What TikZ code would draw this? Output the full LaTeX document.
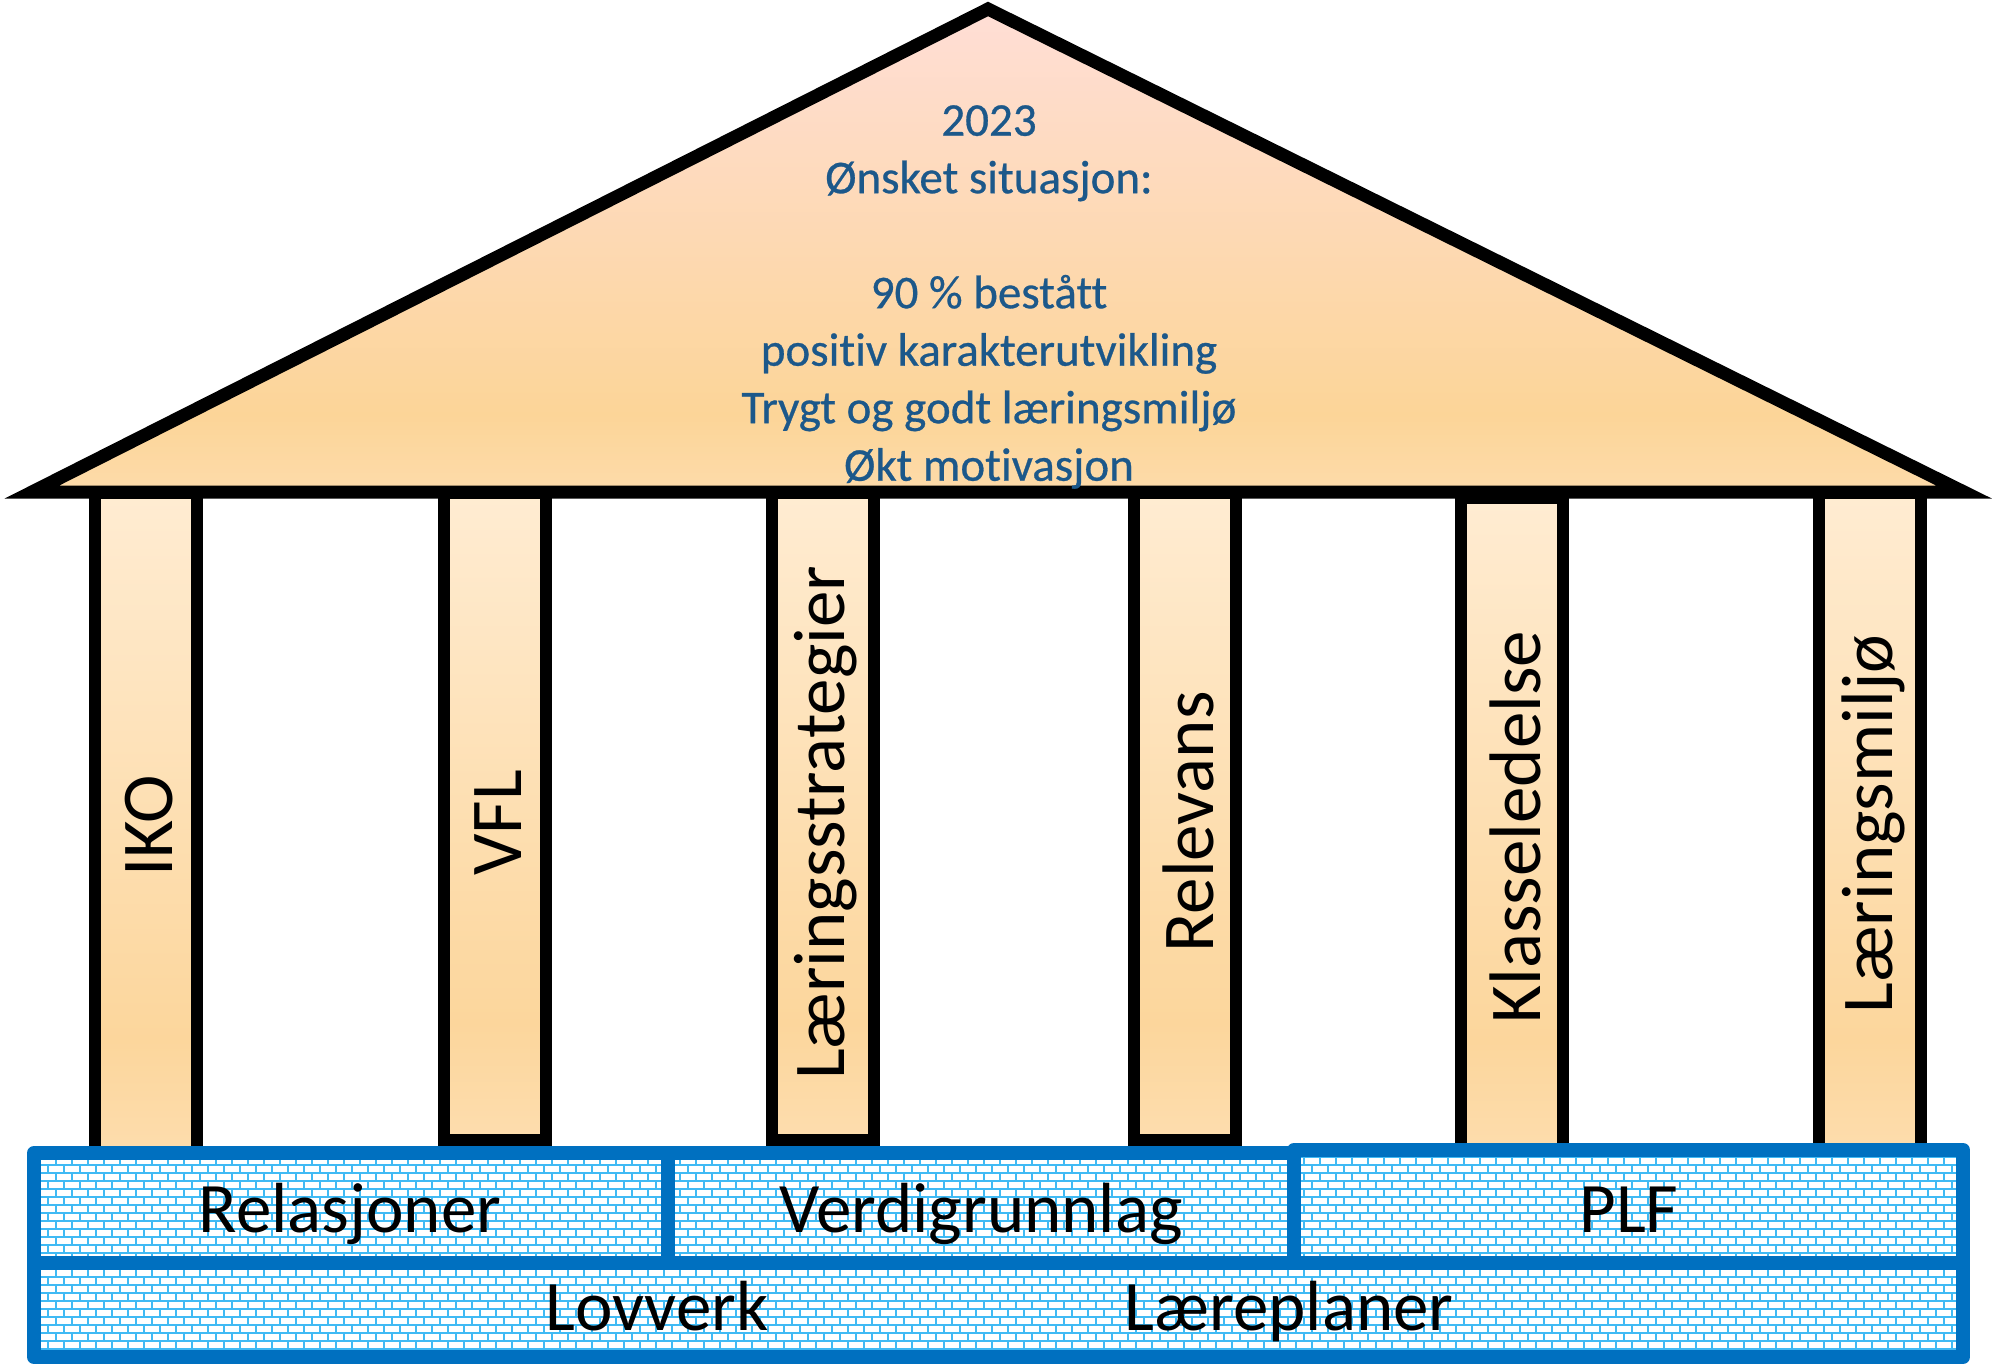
\documentclass[tikz,border=0pt]{standalone}
\usepackage{fontspec}
\setmainfont{Carlito}[Ligatures=NoCommon]
\newfontfamily\goalfont{Carlito}[Ligatures=NoCommon, FakeBold=0.6]
\usetikzlibrary{patterns}
\definecolor{goalblue}{RGB}{28,88,138}
\definecolor{baseblue}{RGB}{0,112,192}
\definecolor{brickblue}{RGB}{64,186,244}
\definecolor{rooftop}{RGB}{255,222,214}
\definecolor{roofmid}{RGB}{252,213,152}
\definecolor{roofbot}{RGB}{253,219,170}
\definecolor{piltop}{RGB}{255,236,210}
\definecolor{pilmid}{RGB}{252,214,156}
\definecolor{pilbot}{RGB}{253,221,174}
\newcommand{\pillarfont}{\fontsize{73}{88}\selectfont}
\newcommand{\basefont}{\fontsize{71}{85}\selectfont}

\pgfdeclareverticalshading{rooffill}{100bp}{color(0bp)=(roofbot); color(25bp)=(roofbot); color(33bp)=(roofmid); color(75bp)=(rooftop); color(100bp)=(rooftop)}
\pgfdeclareverticalshading{pillarfill}{100bp}{color(0bp)=(pilbot); color(25bp)=(pilbot); color(34bp)=(pilmid); color(75bp)=(piltop); color(100bp)=(piltop)}

\pgfdeclarepatternformonly{bluebricks}{\pgfpoint{-1pt}{-1pt}}{\pgfpoint{17pt}{17pt}}{\pgfpoint{16pt}{16pt}}{
  \pgfsetlinewidth{2.4pt}
  \pgfpathmoveto{\pgfpoint{0pt}{0pt}}\pgfpathlineto{\pgfpoint{16pt}{0pt}}
  \pgfpathmoveto{\pgfpoint{0pt}{8pt}}\pgfpathlineto{\pgfpoint{16pt}{8pt}}
  \pgfpathmoveto{\pgfpoint{0pt}{0pt}}\pgfpathlineto{\pgfpoint{0pt}{8pt}}
  \pgfpathmoveto{\pgfpoint{8pt}{8pt}}\pgfpathlineto{\pgfpoint{8pt}{16pt}}
  \pgfusepath{stroke}
}

\tikzset{
  pillarbox/.style={draw=black, line width=12pt, shading=pillarfill},
  roofbox/.style={draw=black, line width=13pt, line join=miter, shading=rooffill},
  brickbox/.style={draw=baseblue, line width=14pt, line join=round, inner sep=0pt,
    preaction={fill=white}, pattern=bluebricks, pattern color=brickblue},
  baselabel/.style={font=\basefont, anchor=base, inner sep=0pt},
}

\begin{document}
\begin{tikzpicture}[x=1pt, y=-1pt]
    \useasboundingbox (0,0) rectangle (1992,1365);

    % Pillars
    \foreach \x/\pbot/\ptop/\ty/\name/\word in {146/1160/493/826/iko/IKO, 495/1140/493/823/vfl/VFL,
        823/1140/493/823/strat/Læringsstrategier, 1185/1140/493/822/relev/Relevans,
        1512/1160/498/827/klasse/Klasseledelse, 1870/1160/493/824/miljo/Læringsmiljø} {
        \draw[pillarbox] (\x-51, \ptop) rectangle (\x+51, \pbot);
        \node[rotate=90, font=\pillarfont, inner sep=0pt] (\name) at (\x+3, \ty) {\word};
    }

    % Roof
    \draw[roofbox] (32,492) -- (988,9) -- (1964,492) -- cycle;
    \node[align=center, text=goalblue, font=\goalfont\fontsize{47}{57.5}\selectfont] (goal) at (989,297)
        {2023\\Ønsket situasjon:\\[57.5pt]90 \% bestått\\positiv karakterutvikling\\Trygt og godt læringsmiljø\\Økt motivasjon};

    % Base
    \node[brickbox, minimum width=1929pt, minimum height=94pt] (ground) at (998.5,1310) {};
    \node[brickbox, minimum width=634pt, minimum height=110pt] (relbox) at (351,1208) {};
    \node[brickbox, minimum width=626pt, minimum height=110pt] (verdibox) at (981,1208) {};
    \node[brickbox, minimum width=669pt, minimum height=113pt] (plfbox) at (1628.5,1206.5) {};

    \node[baselabel] (lovverk) at (657,1330) {Lovverk};
    \node[baselabel] (laereplan) at (1289,1330) {Læreplaner};
    \node[baselabel] (relasjoner) at (350,1232) {Relasjoner};
    \node[baselabel] (verdi) at (981,1232) {Verdigrunnlag};
    \node[baselabel] (plf) at (1629,1232) {PLF};

\end{tikzpicture}
\end{document}
